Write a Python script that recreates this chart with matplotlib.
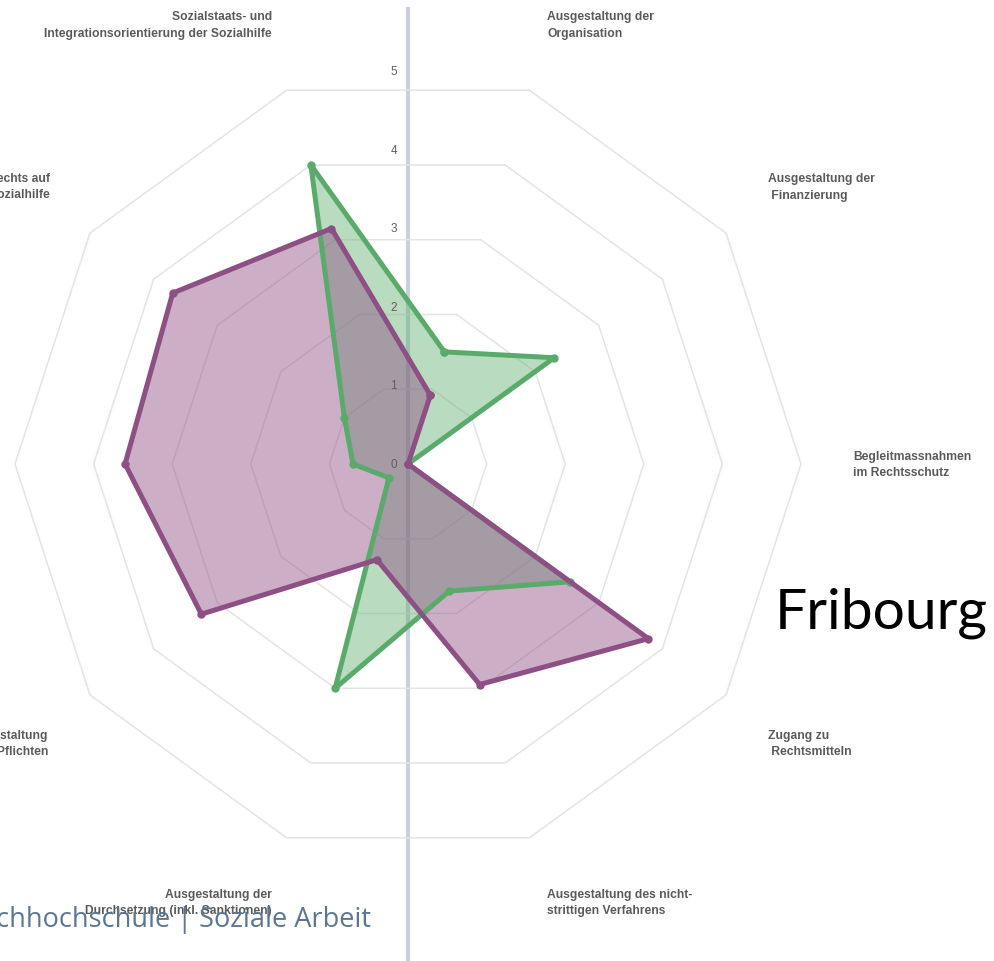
import numpy as np
import matplotlib
matplotlib.use("Agg")
import matplotlib.pyplot as plt
from matplotlib.lines import Line2D
from matplotlib.transforms import offset_copy

# categories clockwise, starting with the axis just right of the top
categories = [
    "Ausgestaltung der\nOrganisation",
    "Ausgestaltung der\n Finanzierung",
    "Begleitmassnahmen\nim Rechtsschutz",
    "Zugang zu\n Rechtsmitteln",
    "Ausgestaltung des nicht-\nstrittigen Verfahrens",
    "Ausgestaltung der\nDurchsetzung (inkl. Sanktionen)",
    "Ausgestaltung\nder Rechte und Pflichten",
    "",
    "Ausgestaltung des Rechts auf\nSozialhilfe",
    "Sozialstaats- und\nIntegrationsorientierung der Sozialhilfe",
]
green_vals = [1.5, 2.3, 0.0, 2.55, 1.7, 3.0, 0.3, 0.7, 1.0, 4.0]
purple_vals = [0.92, 0.0, 0.0, 3.78, 2.95, 1.28, 3.25, 3.6, 3.7, 3.15]
levels = [1, 2, 3, 4, 5]

# label anchors in pixels (x, top y, alignment)
label_pos = [(547, 11, "left"), (768, 173, "left"), (853, 451, "left"),
             (768, 730, "left"), (547, 889, "left"), (272, 889, "right"),
             (48, 730, "right"), (0, 0, "right"), (50, 173, "right"),
             (272, 11, "right")]

W, H = 994, 962
cx, cy, R = 408, 465, 393
lab_font = ["Liberation Sans", "DejaVu Sans"]

fig = plt.figure(figsize=(W / 100, H / 100), dpi=100)
fig.patch.set_facecolor("white")

# slide divider line behind the chart
fig.add_artist(Line2D([cx / W, cx / W], [0, 1 - 10 / H], color="#c9d1da",
                      lw=3.0, zorder=0.5))

ax = fig.add_axes([(cx - R) / W, (H - cy - R) / H, 2 * R / W, 2 * R / H],
                  projection="polar", zorder=1)
ax.set_facecolor("none")
ax.set_ylim(0, 5)
ax.grid(False)
ax.spines["polar"].set_visible(False)
ax.set_xticks([])
ax.set_yticks([])

n = len(categories)
theta = np.deg2rad(72 - 36 * np.arange(n))
theta_c = np.append(theta, theta[0])

for lv in levels:
    ax.plot(theta_c, [lv] * (n + 1), color="#e4e4e4", lw=1.1, zorder=1,
            clip_on=False)

tick_tr = offset_copy(ax.transData, fig=fig, x=-11, y=0, units="dots")
for lv in [0] + levels:
    ax.text(np.pi / 2, lv, str(lv), transform=tick_tr, ha="right",
            va="center", fontsize=8.5, color="#5f5f5f", family=lab_font)

series = [(green_vals, "#5aab6b", 0.42), (purple_vals, "#8e4f84", 0.45)]
for vals, col, a in series:
    v = np.append(vals, vals[0])
    ax.fill(theta_c, v, color=col, alpha=a, lw=0, zorder=2)
    ax.plot(theta_c, v, color=col, lw=3.6, marker="o", markersize=5,
            zorder=3, clip_on=False)

for lab, (x, y, ha) in zip(categories, label_pos):
    if not lab:
        continue
    fig.text(x / W, 1 - y / H, lab, ha=ha, va="top", fontsize=8.7,
             fontweight="bold", color="#5a5a5a", linespacing=1.5,
             family=lab_font)

fig.text(775 / W, 1 - 613 / H, "Fribourg", ha="left", va="center",
         fontsize=41, color="black", family="Lato")
fig.text(371 / W, 1 - 920 / H, "Fachhochschule | Soziale Arbeit", ha="right",
         va="center", fontsize=19.5, color="#5b7691", family="Open Sans",
         zorder=5)

fig.savefig("out.png", dpi=100)
